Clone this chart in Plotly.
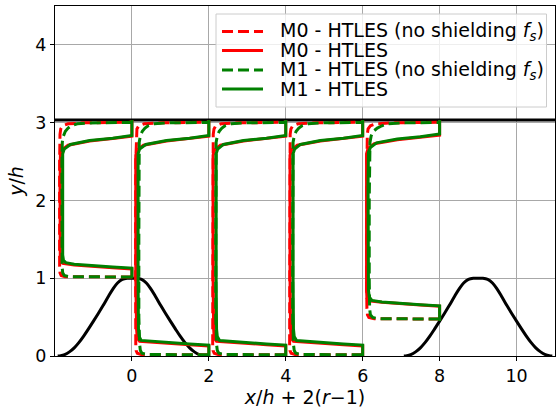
import plotly.graph_objects as go

# ---------------- data ----------------
STATIONS = [0, 2, 4, 6, 8]          # x/h of each profile (r = 1 there)
TOP_WALL_Y = 3.035

# periodic hill half-profile (distance from crest, height)
HILL_DX = [0.0, 0.125, 0.25, 0.375, 0.5, 0.625, 0.75, 0.875, 1.0, 1.125, 1.25, 1.375, 1.5, 1.625, 1.75, 1.85, 1.93]
HILL_H = [1.0, 1.0, 0.986, 0.939, 0.857, 0.755, 0.648, 0.546, 0.448, 0.352, 0.259, 0.175, 0.105, 0.053, 0.018, 0.004, 0.0]
HILL_CRESTS = [0, 9]

# M0 - HTLES (no shielding f_s)  (red dashed)
M0_NS_Y = [
    [1.015, 1.016, 1.02, 1.035, 1.07, 1.15, 1.5, 2.0, 2.5, 2.85, 2.92, 2.96, 2.985, 2.998, 3.005],
    [0.015, 0.016, 0.02, 0.035, 0.07, 0.15, 0.5, 1.5, 2.5, 2.85, 2.92, 2.96, 2.985, 2.998, 3.005],
    [0.015, 0.016, 0.02, 0.035, 0.07, 0.15, 0.5, 1.5, 2.5, 2.85, 2.92, 2.96, 2.985, 2.998, 3.005],
    [0.015, 0.016, 0.02, 0.035, 0.07, 0.15, 0.5, 1.5, 2.5, 2.85, 2.92, 2.96, 2.985, 2.998, 3.005],
    [0.475, 0.476, 0.48, 0.495, 0.53, 0.61, 1.0, 2.0, 2.5, 2.85, 2.92, 2.96, 2.985, 2.998, 3.005],
]
M0_NS_R = [
    [1.0, 0.5, 0.13, 0.08, 0.065, 0.06, 0.058, 0.058, 0.06, 0.065, 0.075, 0.1, 0.17, 0.4, 1.0],
    [1.0, 0.5, 0.12, 0.07, 0.055, 0.05, 0.048, 0.048, 0.05, 0.055, 0.065, 0.09, 0.16, 0.4, 1.0],
    [1.0, 0.5, 0.12, 0.07, 0.055, 0.05, 0.05, 0.05, 0.052, 0.057, 0.067, 0.09, 0.16, 0.4, 1.0],
    [1.0, 0.5, 0.12, 0.07, 0.055, 0.05, 0.05, 0.05, 0.052, 0.057, 0.067, 0.09, 0.16, 0.4, 1.0],
    [1.0, 0.5, 0.15, 0.08, 0.062, 0.055, 0.05, 0.05, 0.055, 0.06, 0.07, 0.1, 0.17, 0.4, 1.0],
]

# M0 - HTLES  (red solid)
M0_Y = [
    [1.0, 1.12, 1.135, 1.15, 1.17, 1.19, 1.22, 1.3, 1.6, 2.2, 2.58, 2.65, 2.71, 2.765, 2.795, 2.825, 3.035],
    [0.0, 0.13, 0.145, 0.16, 0.175, 0.19, 0.23, 0.35, 1.0, 2.0, 2.58, 2.65, 2.71, 2.765, 2.795, 2.825, 3.035],
    [0.0, 0.13, 0.145, 0.16, 0.175, 0.19, 0.23, 0.35, 1.0, 2.0, 2.58, 2.65, 2.71, 2.765, 2.795, 2.825, 3.035],
    [0.0, 0.13, 0.145, 0.16, 0.175, 0.19, 0.23, 0.35, 1.0, 2.0, 2.58, 2.65, 2.71, 2.765, 2.795, 2.825, 3.035],
    [0.45, 0.64, 0.655, 0.67, 0.69, 0.71, 0.75, 0.85, 1.5, 2.2, 2.6, 2.67, 2.73, 2.78, 2.81, 2.84, 3.035],
]
M0_R = [
    [1.0, 1.0, 0.75, 0.5, 0.25, 0.1, 0.075, 0.068, 0.065, 0.065, 0.07, 0.09, 0.17, 0.45, 0.75, 1.0, 1.0],
    [1.0, 1.0, 0.75, 0.5, 0.25, 0.1, 0.07, 0.06, 0.05, 0.05, 0.05, 0.07, 0.15, 0.45, 0.75, 1.0, 1.0],
    [1.0, 1.0, 0.75, 0.5, 0.25, 0.1, 0.07, 0.062, 0.055, 0.055, 0.055, 0.075, 0.15, 0.45, 0.75, 1.0, 1.0],
    [1.0, 1.0, 0.75, 0.5, 0.25, 0.1, 0.07, 0.062, 0.055, 0.055, 0.055, 0.075, 0.15, 0.45, 0.75, 1.0, 1.0],
    [1.0, 1.0, 0.75, 0.5, 0.25, 0.08, 0.055, 0.05, 0.048, 0.048, 0.05, 0.07, 0.15, 0.45, 0.75, 1.0, 1.0],
]

# M1 - HTLES (no shielding f_s)  (green dashed)
M1_NS_Y = [
    [1.015, 1.016, 1.02, 1.035, 1.07, 1.15, 1.5, 2.0, 2.5, 2.75, 2.83, 2.89, 2.93, 2.96, 2.985, 2.997, 3.003],
    [0.015, 0.016, 0.02, 0.035, 0.07, 0.15, 0.5, 1.5, 2.5, 2.75, 2.83, 2.89, 2.93, 2.96, 2.985, 2.997, 3.003],
    [0.015, 0.016, 0.02, 0.035, 0.07, 0.15, 0.5, 1.5, 2.5, 2.75, 2.83, 2.89, 2.93, 2.96, 2.985, 2.997, 3.003],
    [0.015, 0.016, 0.02, 0.035, 0.07, 0.15, 0.5, 1.5, 2.5, 2.75, 2.83, 2.89, 2.93, 2.96, 2.985, 2.997, 3.003],
    [0.475, 0.476, 0.48, 0.495, 0.53, 0.61, 1.0, 2.0, 2.5, 2.75, 2.83, 2.89, 2.93, 2.96, 2.985, 2.997, 3.003],
]
M1_NS_R = [
    [1.0, 0.5, 0.18, 0.12, 0.1, 0.092, 0.09, 0.09, 0.09, 0.095, 0.11, 0.135, 0.17, 0.21, 0.29, 0.45, 1.0],
    [1.0, 0.5, 0.2, 0.13, 0.11, 0.1, 0.09, 0.09, 0.09, 0.095, 0.11, 0.135, 0.17, 0.21, 0.29, 0.45, 1.0],
    [1.0, 0.5, 0.2, 0.13, 0.11, 0.1, 0.09, 0.09, 0.09, 0.095, 0.11, 0.135, 0.17, 0.21, 0.29, 0.45, 1.0],
    [1.0, 0.5, 0.2, 0.13, 0.11, 0.1, 0.09, 0.09, 0.09, 0.095, 0.11, 0.135, 0.17, 0.21, 0.29, 0.45, 1.0],
    [1.0, 0.5, 0.2, 0.13, 0.1, 0.09, 0.085, 0.085, 0.09, 0.095, 0.11, 0.14, 0.19, 0.25, 0.33, 0.5, 1.0],
]

# M1 - HTLES  (green solid)
M1_Y = [
    [1.0, 1.13, 1.145, 1.16, 1.18, 1.2, 1.23, 1.3, 1.6, 2.2, 2.6, 2.66, 2.72, 2.77, 2.80, 2.835, 3.035],
    [0.0, 0.14, 0.155, 0.17, 0.185, 0.2, 0.25, 0.35, 1.0, 2.0, 2.6, 2.66, 2.72, 2.77, 2.80, 2.835, 3.035],
    [0.0, 0.14, 0.155, 0.17, 0.185, 0.2, 0.25, 0.35, 1.0, 2.0, 2.6, 2.66, 2.72, 2.77, 2.80, 2.835, 3.035],
    [0.0, 0.14, 0.155, 0.17, 0.185, 0.2, 0.25, 0.35, 1.0, 2.0, 2.6, 2.66, 2.72, 2.77, 2.80, 2.835, 3.035],
    [0.45, 0.645, 0.66, 0.675, 0.695, 0.715, 0.76, 0.85, 1.5, 2.2, 2.62, 2.68, 2.74, 2.79, 2.82, 2.855, 3.035],
]
M1_R = [
    [1.0, 1.0, 0.75, 0.5, 0.25, 0.14, 0.11, 0.1, 0.098, 0.098, 0.1, 0.12, 0.2, 0.45, 0.75, 1.0, 1.0],
    [1.0, 1.0, 0.75, 0.5, 0.25, 0.12, 0.095, 0.085, 0.08, 0.08, 0.08, 0.1, 0.18, 0.45, 0.75, 1.0, 1.0],
    [1.0, 1.0, 0.75, 0.5, 0.25, 0.14, 0.11, 0.1, 0.095, 0.095, 0.095, 0.115, 0.19, 0.45, 0.75, 1.0, 1.0],
    [1.0, 1.0, 0.75, 0.5, 0.25, 0.14, 0.11, 0.1, 0.095, 0.095, 0.095, 0.115, 0.19, 0.45, 0.75, 1.0, 1.0],
    [1.0, 1.0, 0.75, 0.5, 0.25, 0.12, 0.085, 0.075, 0.07, 0.07, 0.075, 0.1, 0.18, 0.45, 0.75, 1.0, 1.0],
]

LEGEND_LABELS = [
    "M0 - HTLES (no shielding <i>f</i><sub><i>s</i></sub>)",
    "M0 - HTLES",
    "M1 - HTLES (no shielding <i>f</i><sub><i>s</i></sub>)",
    "M1 - HTLES",
]
COLORS = ["#ff0000", "#ff0000", "#008000", "#008000"]
DASHES = ["11px,5px", "solid", "11px,5px", "solid"]
SERIES_R = [M0_NS_R, M0_R, M1_NS_R, M1_R]
SERIES_Y = [M0_NS_Y, M0_Y, M1_NS_Y, M1_Y]

X_RANGE = [-2, 11]
Y_RANGE = [0, 4.5]

# ---------------- figure ----------------
W, H = 559, 410
ML, MR, MT, MB = 55, 4, 6, 54
PW, PH = W - ML - MR, H - MT - MB

def px2paper(px, py):
    return (px - ML) / PW, (H - MB - py) / PH

fig = go.Figure()

for c in HILL_CRESTS:
    xs = [c - d for d in reversed(HILL_DX)] + [c + d for d in HILL_DX]
    ys = list(reversed(HILL_H)) + HILL_H
    fig.add_trace(go.Scatter(x=xs, y=ys, mode="lines", line=dict(color="black", width=3, shape="spline"),
                             showlegend=False, hoverinfo="skip"))

fig.add_trace(go.Scatter(x=X_RANGE, y=[TOP_WALL_Y, TOP_WALL_Y], mode="lines",
                         line=dict(color="black", width=3), showlegend=False, hoverinfo="skip"))

for k in range(4):
    for i, xs0 in enumerate(STATIONS):
        xs = [xs0 + 2 * (r - 1) for r in SERIES_R[k][i]]
        fig.add_trace(go.Scatter(
            x=xs, y=SERIES_Y[k][i], mode="lines", name=LEGEND_LABELS[k],
            showlegend=False,
            line=dict(color=COLORS[k], width=3, dash=DASHES[k]),
        ))

FONT = "DejaVu Sans"

# manual legend (matplotlib-like)
shapes = []
annotations = []
x0, y0 = px2paper(216, 14)
x1, y1 = px2paper(546.5, 107)
shapes.append(dict(type="rect", xref="paper", yref="paper", x0=x0, y0=y1, x1=x1, y1=y0,
                   fillcolor="rgba(255,255,255,0.8)", line=dict(color="#cccccc", width=1), layer="above"))
row_y = [31.5, 50.5, 70, 89]
for k in range(4):
    lx0, ly = px2paper(222, row_y[k])
    lx1, _ = px2paper(263, row_y[k])
    shapes.append(dict(type="line", xref="paper", yref="paper", x0=lx0, x1=lx1, y0=ly, y1=ly,
                       line=dict(color=COLORS[k], width=3, dash=DASHES[k]), layer="above"))
    tx, _ = px2paper(278, row_y[k])
    annotations.append(dict(xref="paper", yref="paper", x=tx, y=ly, xanchor="left", yanchor="middle",
                            text=LEGEND_LABELS[k], showarrow=False,
                            font=dict(family=FONT, size=19, color="black")))

fig.update_layout(
    width=W, height=H,
    margin=dict(l=ML, r=MR, t=MT, b=MB, autoexpand=False),
    plot_bgcolor="white", paper_bgcolor="white",
    font=dict(family=FONT, size=17, color="black"),
    showlegend=False,
    shapes=shapes, annotations=annotations,
)
fig.update_xaxes(range=X_RANGE, tickvals=[0, 2, 4, 6, 8, 10], showgrid=True, gridcolor="#a8a8a8", gridwidth=1,
                 zeroline=False, showline=True, linecolor="black", linewidth=1, mirror=True,
                 ticks="outside", ticklen=4, tickcolor="black", automargin=False,
                 tickfont=dict(size=17.5),
                 title=dict(text="<i>x</i>/<i>h</i> + 2(<i>r</i>−1)", font=dict(size=19), standoff=4))
fig.update_yaxes(range=Y_RANGE, tickvals=[0, 1, 2, 3, 4], showgrid=True, gridcolor="#a8a8a8", gridwidth=1,
                 zeroline=False, showline=True, linecolor="black", linewidth=1, mirror=True,
                 ticks="outside", ticklen=4, tickcolor="black", automargin=False,
                 tickfont=dict(size=17.5),
                 title=dict(text="<i>y</i>/<i>h</i>", font=dict(size=19), standoff=6))

fig.write_html("out.html", config={"displayModeBar": False},
               post_script="document.body.style.margin='0';document.body.style.padding='0';document.body.style.overflow='hidden';")
